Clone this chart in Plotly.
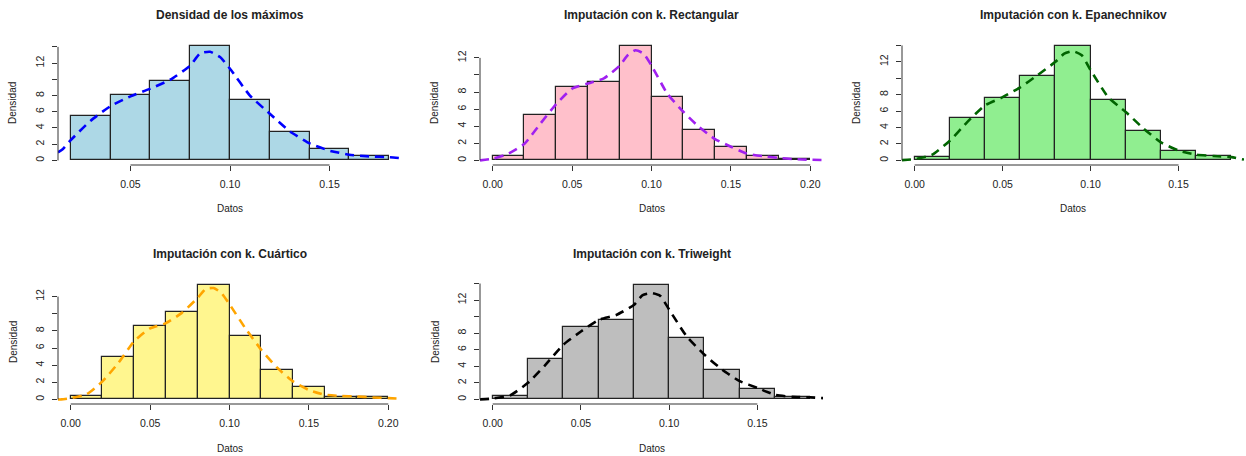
import plotly.graph_objects as go

# ---------------- data ----------------
bin_width = 0.02

titles = ["Densidad de los máximos", "Imputación con k. Rectangular",
          "Imputación con k. Epanechnikov", "Imputación con k. Cuártico",
          "Imputación con k. Triweight"]

bins_start = [0.02, 0.00, 0.00, 0.00, 0.00]

dens_max = [5.47, 8.07, 9.84, 14.16, 7.45, 3.54, 1.36, 0.49]
dens_rect = [0.47, 5.35, 8.63, 9.22, 13.44, 7.42, 3.59, 1.56, 0.47, 0.16]
dens_epan = [0.45, 5.20, 7.56, 10.28, 13.98, 7.40, 3.58, 1.14, 0.57]
dens_cuar = [0.43, 4.95, 8.53, 10.20, 13.40, 7.44, 3.47, 1.40, 0.27, 0.27]
dens_triw = [0.40, 4.92, 8.71, 9.56, 13.87, 7.42, 3.59, 1.29, 0.28]

kde_x_max = [0.0136, 0.0156, 0.02, 0.03, 0.04, 0.05, 0.06, 0.07, 0.08, 0.085, 0.09, 0.095,
             0.10, 0.11, 0.12, 0.13, 0.14, 0.15, 0.16, 0.17, 0.18, 0.1864]
kde_y_max = [1.0, 1.3, 2.5, 4.9, 6.7, 7.9, 8.85, 9.95, 11.7, 13.2, 13.4, 12.75,
             11.3, 8.0, 5.76, 3.6, 2.1, 1.2, 0.7, 0.5, 0.4, 0.25]

kde_x_rect = [-0.008, 0.00, 0.01, 0.02, 0.03, 0.04, 0.05, 0.06, 0.07, 0.08, 0.085, 0.09, 0.095,
              0.10, 0.11, 0.12, 0.13, 0.14, 0.15, 0.16, 0.17, 0.18, 0.19, 0.20, 0.208]
kde_y_rect = [0.0, 0.2, 0.8, 1.95, 4.3, 6.6, 8.4, 9.0, 9.6, 11.1, 12.3, 12.9, 12.5,
              11.1, 7.8, 5.7, 3.9, 2.5, 1.6, 0.8, 0.5, 0.3, 0.15, 0.08, 0.04]

kde_x_epan = [-0.0072, -0.004, 0.00, 0.01, 0.02, 0.03, 0.04, 0.05, 0.06, 0.07, 0.08, 0.085, 0.09,
              0.095, 0.10, 0.11, 0.12, 0.13, 0.14, 0.15, 0.16, 0.17, 0.18, 0.1872]
kde_y_epan = [0.04, 0.08, 0.15, 0.7, 2.4, 4.7, 6.7, 7.7, 8.9, 10.4, 12.0, 13.0, 13.3,
              12.8, 11.0, 7.7, 5.9, 3.9, 2.2, 1.2, 0.7, 0.53, 0.4, 0.1]

kde_x_cuar = [-0.008, -0.006, 0.00, 0.01, 0.02, 0.03, 0.04, 0.05, 0.06, 0.07, 0.08, 0.085, 0.09,
              0.095, 0.10, 0.11, 0.12, 0.13, 0.14, 0.15, 0.16, 0.17, 0.18, 0.19, 0.20, 0.208]
kde_y_cuar = [0.0, 0.0, 0.15, 0.6, 2.1, 4.25, 6.8, 8.3, 8.9, 10.1, 11.85, 12.9, 13.0,
              12.4, 11.1, 8.3, 5.8, 3.7, 2.1, 1.1, 0.55, 0.4, 0.35, 0.23, 0.15, 0.08]

kde_x_triw = [-0.0072, 0.00, 0.01, 0.02, 0.03, 0.04, 0.05, 0.06, 0.07, 0.08, 0.085, 0.09,
              0.095, 0.10, 0.11, 0.12, 0.13, 0.14, 0.15, 0.16, 0.17, 0.18, 0.1872]
kde_y_triw = [0.0, 0.1, 0.5, 2.0, 4.2, 6.6, 8.2, 9.6, 10.2, 11.4, 12.6, 12.85,
              12.5, 10.85, 7.6, 5.4, 3.6, 2.2, 1.4, 0.55, 0.3, 0.25, 0.15]

x_ticks = [[0.05, 0.10, 0.15], [0.00, 0.05, 0.10, 0.15, 0.20], [0.00, 0.05, 0.10, 0.15],
           [0.00, 0.05, 0.10, 0.15, 0.20], [0.00, 0.05, 0.10, 0.15]]
x_tick_labels = [["0.05", "0.10", "0.15"], ["0.00", "0.05", "0.10", "0.15", "0.20"],
                 ["0.00", "0.05", "0.10", "0.15"], ["0.00", "0.05", "0.10", "0.15", "0.20"],
                 ["0.00", "0.05", "0.10", "0.15"]]
y_ticks = [[0, 2, 4, 6, 8, 10, 12, 14], [0, 2, 4, 6, 8, 10, 12], [0, 2, 4, 6, 8, 10, 12, 14],
           [0, 2, 4, 6, 8, 10, 12], [0, 2, 4, 6, 8, 10, 12, 14]]
y_tick_labels = [["0", "2", "4", "6", "8", "", "12", ""], ["0", "2", "4", "6", "8", "", "12"],
                 ["0", "2", "4", "6", "8", "", "12", ""], ["0", "2", "4", "6", "8", "", "12"],
                 ["0", "2", "4", "6", "8", "", "12", ""]]

densities = [dens_max, dens_rect, dens_epan, dens_cuar, dens_triw]
kde_x = [kde_x_max, kde_x_rect, kde_x_epan, kde_x_cuar, kde_x_triw]
kde_y = [kde_y_max, kde_y_rect, kde_y_epan, kde_y_cuar, kde_y_triw]

fill_colors = ["#ADD8E6", "#FFC0CB", "#90EE90", "#FFF68F", "#BEBEBE"]
line_colors = ["#0000FF", "#A020F0", "#006400", "#FFA500", "#000000"]

# ---------------- layout geometry (pixels) ----------------
W, H = 1246, 456
panel_px = [  # left, right, top, bottom
    (58, 402, 41, 165),
    (480, 823, 41, 165),
    (902, 1244, 41, 165),
    (58, 401, 280, 404),
    (480, 823, 280, 404),
]

fig = go.Figure()
FONT = "Liberation Sans, Arial, Helvetica, sans-serif"
TXT = "#222222"

for i in range(5):
    n = i + 1
    xa = "x" if n == 1 else f"x{n}"
    ya = "y" if n == 1 else f"y{n}"
    dens = densities[i]
    starts = [bins_start[i] + k * bin_width for k in range(len(dens))]
    centers = [s + bin_width / 2 for s in starts]
    fig.add_trace(go.Bar(
        x=centers, y=dens, width=bin_width, xaxis=xa, yaxis=ya,
        marker=dict(color=fill_colors[i], line=dict(color="#222222", width=1.2)),
        showlegend=False, hoverinfo="skip"))
    fig.add_trace(go.Scatter(
        x=kde_x[i], y=kde_y[i], mode="lines", xaxis=xa, yaxis=ya,
        line=dict(color=line_colors[i], width=2.6, dash="9px,6px", shape="spline", smoothing=0.5),
        showlegend=False, hoverinfo="skip"))

    # R-like ranges (4% extension)
    x0 = bins_start[i]
    x1 = bins_start[i] + bin_width * len(dens)
    dx = (x1 - x0) * 0.04
    ymax = max(dens)
    dy = ymax * 0.04

    l, r, t, b = panel_px[i]
    xdom = [l / W, r / W]
    ydom = [1 - b / H, 1 - t / H]
    axis_common = dict(showgrid=False, zeroline=False, showline=False, ticks="outside",
                       ticklen=5, tickwidth=1, tickcolor="#333333",
                       tickfont=dict(family=FONT, size=10.5, color=TXT))
    xkey = "xaxis" if n == 1 else f"xaxis{n}"
    ykey = "yaxis" if n == 1 else f"yaxis{n}"
    fig.update_layout({
        xkey: dict(domain=xdom, range=[x0 - dx, x1 + dx], anchor=ya,
                   tickmode="array", tickvals=x_ticks[i], ticktext=x_tick_labels[i],
                   ticklabelstandoff=4, **axis_common),
        ykey: dict(domain=ydom, range=[-dy, ymax + dy], anchor=xa,
                   tickmode="array", tickvals=y_ticks[i], ticktext=y_tick_labels[i],
                   tickangle=-90, ticklabelstandoff=4, **axis_common),
    })
    # R-style axis lines spanning only the tick range
    fig.add_shape(type="line", xref=xa, yref="paper",
                  x0=x_ticks[i][0], x1=x_ticks[i][-1], y0=ydom[0], y1=ydom[0],
                  line=dict(color="#333333", width=1))
    fig.add_shape(type="line", xref="paper", yref=ya,
                  x0=xdom[0], x1=xdom[0], y0=y_ticks[i][0], y1=y_ticks[i][-1],
                  line=dict(color="#333333", width=1))

    cx = (xdom[0] + xdom[1]) / 2
    fig.add_annotation(text=f"<b>{titles[i]}</b>", xref="paper", yref="paper",
                       x=cx, y=1 - (t - 26) / H, showarrow=False,
                       font=dict(family=FONT, size=12, color=TXT),
                       xanchor="center", yanchor="middle")
    fig.add_annotation(text="Datos", xref="paper", yref="paper",
                       x=cx, y=1 - (b + 44) / H, showarrow=False,
                       font=dict(family=FONT, size=10, color=TXT),
                       xanchor="center", yanchor="middle")
    fig.add_annotation(text="Densidad", xref="paper", yref="paper",
                       x=(l - 45) / W, y=(ydom[0] + ydom[1]) / 2, showarrow=False,
                       textangle=-90, font=dict(family=FONT, size=10, color=TXT),
                       xanchor="center", yanchor="middle")

fig.update_layout(width=W, height=H, margin=dict(l=0, r=0, t=0, b=0),
                  paper_bgcolor="white", plot_bgcolor="white", bargap=0)

fig.write_html("out.html", config={"displayModeBar": False},
               post_script="document.body.style.margin='0';document.body.style.overflow='hidden';")
